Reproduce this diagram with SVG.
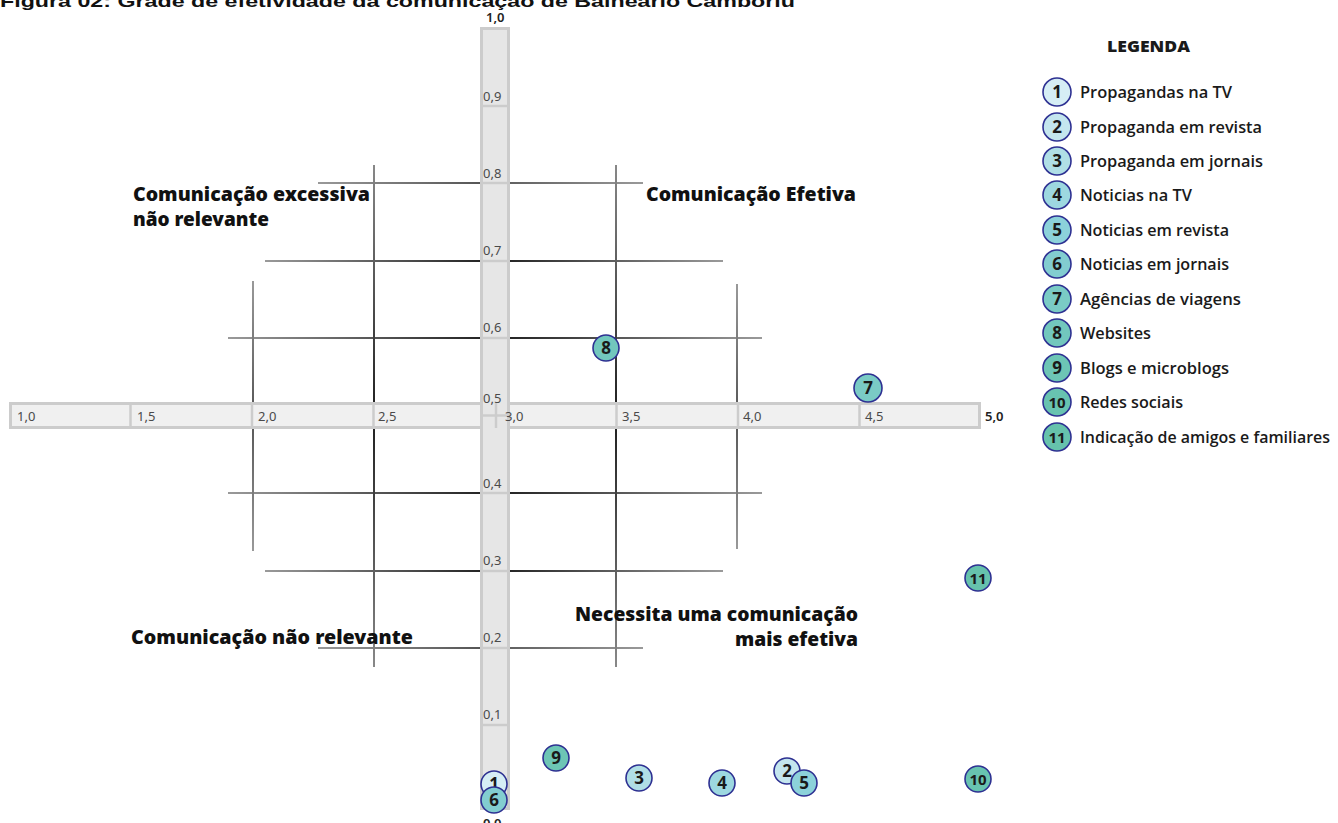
<svg xmlns="http://www.w3.org/2000/svg" width="1338" height="823" viewBox="0 0 1338 823">
<defs>
<linearGradient id="gh" x1="0" y1="0" x2="1" y2="0"><stop offset="0" stop-color="#9a9a9a"/><stop offset="0.5" stop-color="#1e1e1e"/><stop offset="1" stop-color="#9a9a9a"/></linearGradient>
<linearGradient id="ghl" x1="0" y1="0" x2="1" y2="0"><stop offset="0" stop-color="#999"/><stop offset="0.5" stop-color="#555"/><stop offset="1" stop-color="#999"/></linearGradient>
<linearGradient id="gv" x1="0" y1="0" x2="0" y2="1"><stop offset="0" stop-color="#888"/><stop offset="0.5" stop-color="#1e1e1e"/><stop offset="1" stop-color="#888"/></linearGradient>
<linearGradient id="gvl" x1="0" y1="0" x2="0" y2="1"><stop offset="0" stop-color="#999"/><stop offset="0.5" stop-color="#555"/><stop offset="1" stop-color="#999"/></linearGradient>
</defs>
<style>
.title{font-family:"Liberation Sans",Arial,sans-serif;font-weight:bold;font-size:17px;fill:#111}
.ax{font-family:"Noto Sans","Open Sans",sans-serif;font-size:13px;fill:#4a4a4a}
.axb{font-family:"Noto Sans","Open Sans",sans-serif;font-size:13px;fill:#222;font-weight:600}
.q{font-family:"Noto Sans","Open Sans",sans-serif;font-weight:900;font-size:19px;fill:#111}
.lg{font-family:"Open Sans","Noto Sans",sans-serif;font-weight:600;font-size:17px;fill:#1a1a1a}
.lgh{font-family:"Open Sans","Noto Sans",sans-serif;font-weight:800;font-size:15px;fill:#1a1a1a}
.c{stroke:#2e3192;stroke-width:1.6}
.n{font-family:"Open Sans","Noto Sans",sans-serif;font-weight:700;font-size:17px;fill:#1a1a1a;text-anchor:middle}
.n2{font-size:15px}
.bar{stroke:#cccccc;stroke-width:3}
.sep{stroke:#cccccc;stroke-width:2.5}
</style>
<text class="title" x="0" y="7" textLength="795" lengthAdjust="spacingAndGlyphs">Figura 02: Grade de efetividade da comunicação de Balneário Camboriú</text>
<g id="grid">
<rect x="318" y="182" width="325" height="2" fill="url(#ghl)"/>
<rect x="265" y="260" width="458" height="2" fill="url(#gh)"/>
<rect x="228" y="337" width="534" height="2" fill="url(#gh)"/>
<rect x="228" y="492" width="534" height="2" fill="url(#gh)"/>
<rect x="265" y="570" width="458" height="2" fill="url(#gh)"/>
<rect x="318" y="647" width="325" height="2" fill="url(#ghl)"/>
<rect x="373" y="165" width="2" height="502" fill="url(#gv)"/>
<rect x="615" y="165" width="2" height="502" fill="url(#gv)"/>
<rect x="252" y="281" width="2" height="270" fill="url(#gvl)"/>
<rect x="736" y="284" width="2" height="265" fill="url(#gvl)"/>
</g>
<g id="x-axis">
<rect class="bar" x="10.5" y="403.5" width="969" height="24" fill="#f0f0f0"/>
<line class="sep" x1="130.5" y1="403" x2="130.5" y2="428"/>
<line class="sep" x1="252" y1="403" x2="252" y2="428"/>
<line class="sep" x1="373.5" y1="403" x2="373.5" y2="428"/>
<line class="sep" x1="616.5" y1="403" x2="616.5" y2="428"/>
<line class="sep" x1="738" y1="403" x2="738" y2="428"/>
<line class="sep" x1="859.5" y1="403" x2="859.5" y2="428"/>
</g>
<g id="y-axis">
<rect class="bar" x="481.5" y="28.5" width="27" height="780" fill="#e6e6e6"/>
<line class="sep" x1="482" y1="106" x2="508" y2="106"/>
<line class="sep" x1="482" y1="183" x2="508" y2="183"/>
<line class="sep" x1="482" y1="261" x2="508" y2="261"/>
<line class="sep" x1="482" y1="338" x2="508" y2="338"/>
<line class="sep" x1="482" y1="493" x2="508" y2="493"/>
<line class="sep" x1="482" y1="571" x2="508" y2="571"/>
<line class="sep" x1="482" y1="648" x2="508" y2="648"/>
<line class="sep" x1="482" y1="725" x2="508" y2="725"/>
<line class="sep" x1="496" y1="403" x2="496" y2="428"/>
<line class="sep" x1="482" y1="415.5" x2="508" y2="415.5"/>
</g>
<g id="axis-labels">
<text class="axb" x="486" y="22">1,0</text>
<text class="ax" x="483" y="101">0,9</text>
<text class="ax" x="483" y="178">0,8</text>
<text class="ax" x="483" y="255">0,7</text>
<text class="ax" x="483" y="332">0,6</text>
<text class="ax" x="483" y="403">0,5</text>
<text class="ax" x="483" y="488">0,4</text>
<text class="ax" x="483" y="565">0,3</text>
<text class="ax" x="483" y="642">0,2</text>
<text class="ax" x="483" y="719">0,1</text>
<text class="axb" x="483" y="828">0,0</text>
<text class="ax" x="17" y="421">1,0</text>
<text class="ax" x="137" y="421">1,5</text>
<text class="ax" x="258" y="421">2,0</text>
<text class="ax" x="378" y="421">2,5</text>
<text class="ax" x="505" y="421">3,0</text>
<text class="ax" x="622" y="421">3,5</text>
<text class="ax" x="743" y="421">4,0</text>
<text class="ax" x="865" y="421">4,5</text>
<text class="axb" x="985" y="421">5,0</text>
</g>
<g id="quadrant-labels">
<text class="q" x="133" y="201" textLength="237" lengthAdjust="spacingAndGlyphs">Comunicação excessiva</text>
<text class="q" x="133" y="226" textLength="136" lengthAdjust="spacingAndGlyphs">não relevante</text>
<text class="q" x="646" y="201" textLength="210" lengthAdjust="spacingAndGlyphs">Comunicação Efetiva</text>
<text class="q" x="575" y="621" textLength="283" lengthAdjust="spacingAndGlyphs">Necessita uma comunicação</text>
<text class="q" x="735" y="646" textLength="123" lengthAdjust="spacingAndGlyphs">mais efetiva</text>
<text class="q" x="131" y="644" textLength="282" lengthAdjust="spacingAndGlyphs">Comunicação não relevante</text>
</g>
<g id="points">
<g id="p1"><circle class="c" cx="494" cy="784" r="13" fill="#d6eef5"/><text class="n" x="494" y="790">1</text></g>
<g id="p6"><circle class="c" cx="494" cy="800" r="13" fill="#82cdd0"/><text class="n" x="494" y="806">6</text></g>
<g id="p9"><circle class="c" cx="556" cy="758" r="13" fill="#6dc5b5"/><text class="n" x="556" y="764">9</text></g>
<g id="p3"><circle class="c" cx="639" cy="778" r="13" fill="#b0dfe6"/><text class="n" x="639" y="784">3</text></g>
<g id="p4"><circle class="c" cx="722" cy="783" r="13" fill="#9dd8e0"/><text class="n" x="722" y="789">4</text></g>
<g id="p2"><circle class="c" cx="787" cy="771" r="13" fill="#c4e6ee"/><text class="n" x="787" y="777">2</text></g>
<g id="p5"><circle class="c" cx="804" cy="783" r="13" fill="#8cd2da"/><text class="n" x="804" y="789">5</text></g>
<g id="p8"><circle class="c" cx="606" cy="348" r="13" fill="#72c7bd"/><text class="n" x="606" y="354">8</text></g>
<g id="p7"><circle class="c" cx="868" cy="388" r="14" fill="#7acbc5"/><text class="n" x="868" y="394">7</text></g>
<g id="p11"><circle class="c" cx="978" cy="578" r="13" fill="#66c2ac"/><text class="n n2" x="978" y="583.5">11</text></g>
<g id="p10"><circle class="c" cx="978" cy="779" r="13" fill="#68c3b0"/><text class="n n2" x="978" y="784.5">10</text></g>
</g>
<g id="legend">
<text class="lgh" x="1107" y="52" textLength="83" lengthAdjust="spacingAndGlyphs">LEGENDA</text>
<g id="l1"><circle class="c" cx="1057" cy="92" r="14" fill="#d6eef5"/><text class="n" x="1057" y="98">1</text><text class="lg" x="1080" y="98" textLength="152" lengthAdjust="spacingAndGlyphs">Propagandas na TV</text></g>
<g id="l2"><circle class="c" cx="1057" cy="127" r="14" fill="#c4e6ee"/><text class="n" x="1057" y="133">2</text><text class="lg" x="1080" y="133" textLength="182" lengthAdjust="spacingAndGlyphs">Propaganda em revista</text></g>
<g id="l3"><circle class="c" cx="1057" cy="161" r="14" fill="#b0dfe6"/><text class="n" x="1057" y="167">3</text><text class="lg" x="1080" y="167" textLength="183" lengthAdjust="spacingAndGlyphs">Propaganda em jornais</text></g>
<g id="l4"><circle class="c" cx="1057" cy="195" r="14" fill="#9dd8e0"/><text class="n" x="1057" y="201">4</text><text class="lg" x="1080" y="201" textLength="112" lengthAdjust="spacingAndGlyphs">Noticias na TV</text></g>
<g id="l5"><circle class="c" cx="1057" cy="230" r="14" fill="#8cd2da"/><text class="n" x="1057" y="236">5</text><text class="lg" x="1080" y="236" textLength="149" lengthAdjust="spacingAndGlyphs">Noticias em revista</text></g>
<g id="l6"><circle class="c" cx="1057" cy="264" r="14" fill="#82cdd0"/><text class="n" x="1057" y="270">6</text><text class="lg" x="1080" y="270" textLength="149" lengthAdjust="spacingAndGlyphs">Noticias em jornais</text></g>
<g id="l7"><circle class="c" cx="1057" cy="299" r="14" fill="#7acbc5"/><text class="n" x="1057" y="305">7</text><text class="lg" x="1080" y="305" textLength="161" lengthAdjust="spacingAndGlyphs">Agências de viagens</text></g>
<g id="l8"><circle class="c" cx="1057" cy="333" r="14" fill="#72c7bd"/><text class="n" x="1057" y="339">8</text><text class="lg" x="1080" y="339" textLength="71" lengthAdjust="spacingAndGlyphs">Websites</text></g>
<g id="l9"><circle class="c" cx="1057" cy="368" r="14" fill="#6dc5b5"/><text class="n" x="1057" y="374">9</text><text class="lg" x="1080" y="374" textLength="149" lengthAdjust="spacingAndGlyphs">Blogs e microblogs</text></g>
<g id="l10"><circle class="c" cx="1057" cy="402" r="14" fill="#68c3b0"/><text class="n n2" x="1057" y="407.5">10</text><text class="lg" x="1080" y="408" textLength="103" lengthAdjust="spacingAndGlyphs">Redes sociais</text></g>
<g id="l11"><circle class="c" cx="1057" cy="437" r="14" fill="#66c2ac"/><text class="n n2" x="1057" y="442.5">11</text><text class="lg" x="1080" y="443" textLength="250" lengthAdjust="spacingAndGlyphs">Indicação de amigos e familiares</text></g>
</g>
</svg>
